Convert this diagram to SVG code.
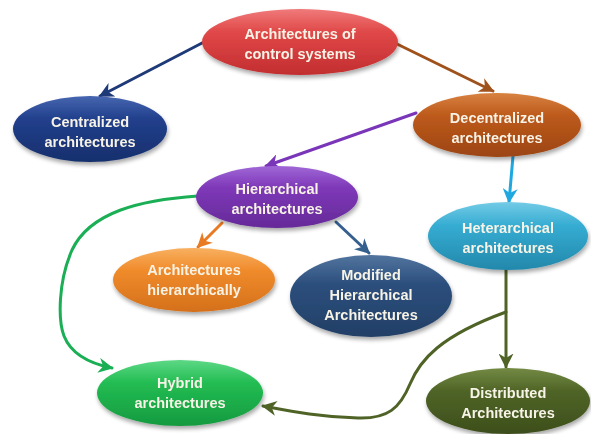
<svg xmlns="http://www.w3.org/2000/svg" width="591" height="434" viewBox="0 0 591 434">
<style>
.t{font-family:"Liberation Sans","Open Sans",Arial,sans-serif;font-weight:bold;font-size:14.5px;fill:#f7f3e6;text-anchor:middle}
.c{fill:none;stroke-width:3;stroke-linecap:round}
.n{filter:url(#sh)}
</style>
<defs>
<filter id="sh" x="-20%" y="-20%" width="140%" height="150%">
<feGaussianBlur in="SourceAlpha" stdDeviation="2"/>
<feOffset dx="1" dy="3" result="o"/>
<feComponentTransfer><feFuncA type="linear" slope="0.35"/></feComponentTransfer>
<feMerge><feMergeNode/><feMergeNode in="SourceGraphic"/></feMerge>
</filter>
<linearGradient id="gR" x1="0" y1="0" x2="0" y2="1"><stop offset="0" stop-color="#f07a7a"/><stop offset="0.35" stop-color="#e04848"/><stop offset="1" stop-color="#c22e30"/></linearGradient>
<linearGradient id="gN" x1="0" y1="0" x2="0" y2="1"><stop offset="0" stop-color="#4666b0"/><stop offset="0.35" stop-color="#213f8c"/><stop offset="1" stop-color="#172f6c"/></linearGradient>
<linearGradient id="gB" x1="0" y1="0" x2="0" y2="1"><stop offset="0" stop-color="#d88240"/><stop offset="0.35" stop-color="#bd5a1c"/><stop offset="1" stop-color="#9c4512"/></linearGradient>
<linearGradient id="gP" x1="0" y1="0" x2="0" y2="1"><stop offset="0" stop-color="#a067d6"/><stop offset="0.35" stop-color="#7e38b8"/><stop offset="1" stop-color="#652a98"/></linearGradient>
<linearGradient id="gC" x1="0" y1="0" x2="0" y2="1"><stop offset="0" stop-color="#74cbe6"/><stop offset="0.35" stop-color="#35acd2"/><stop offset="1" stop-color="#2388ab"/></linearGradient>
<linearGradient id="gO" x1="0" y1="0" x2="0" y2="1"><stop offset="0" stop-color="#f8b060"/><stop offset="0.35" stop-color="#f08b2c"/><stop offset="1" stop-color="#d4701a"/></linearGradient>
<linearGradient id="gM" x1="0" y1="0" x2="0" y2="1"><stop offset="0" stop-color="#52759f"/><stop offset="0.35" stop-color="#2c4f7d"/><stop offset="1" stop-color="#223f66"/></linearGradient>
<linearGradient id="gG" x1="0" y1="0" x2="0" y2="1"><stop offset="0" stop-color="#5ed886"/><stop offset="0.35" stop-color="#22bc52"/><stop offset="1" stop-color="#169a40"/></linearGradient>
<linearGradient id="gL" x1="0" y1="0" x2="0" y2="1"><stop offset="0" stop-color="#738a44"/><stop offset="0.35" stop-color="#4f6426"/><stop offset="1" stop-color="#3d4e1c"/></linearGradient>
<marker id="aN" viewBox="0 0 10 10" refX="9" refY="5" markerWidth="5" markerHeight="5" orient="auto" markerUnits="strokeWidth"><path d="M0,0 L10,5 L0,10 L3,5 z" fill="#1f3a78"/></marker>
<marker id="aB" viewBox="0 0 10 10" refX="9" refY="5" markerWidth="5" markerHeight="5" orient="auto" markerUnits="strokeWidth"><path d="M0,0 L10,5 L0,10 L3,5 z" fill="#a0521c"/></marker>
<marker id="aP" viewBox="0 0 10 10" refX="9" refY="5" markerWidth="5" markerHeight="5" orient="auto" markerUnits="strokeWidth"><path d="M0,0 L10,5 L0,10 L3,5 z" fill="#7a36b8"/></marker>
<marker id="aC" viewBox="0 0 10 10" refX="9" refY="5" markerWidth="5" markerHeight="5" orient="auto" markerUnits="strokeWidth"><path d="M0,0 L10,5 L0,10 L3,5 z" fill="#1fa8e0"/></marker>
<marker id="aO" viewBox="0 0 10 10" refX="9" refY="5" markerWidth="5" markerHeight="5" orient="auto" markerUnits="strokeWidth"><path d="M0,0 L10,5 L0,10 L3,5 z" fill="#e97a22"/></marker>
<marker id="aM" viewBox="0 0 10 10" refX="9" refY="5" markerWidth="5" markerHeight="5" orient="auto" markerUnits="strokeWidth"><path d="M0,0 L10,5 L0,10 L3,5 z" fill="#35608e"/></marker>
<marker id="aG" viewBox="0 0 10 10" refX="9" refY="5" markerWidth="5" markerHeight="5" orient="auto" markerUnits="strokeWidth"><path d="M0,0 L10,5 L0,10 L3,5 z" fill="#1aaf55"/></marker>
<marker id="aL" viewBox="0 0 10 10" refX="9" refY="5" markerWidth="5" markerHeight="5" orient="auto" markerUnits="strokeWidth"><path d="M0,0 L10,5 L0,10 L3,5 z" fill="#4f6326"/></marker>
</defs>
<rect width="591" height="434" fill="#ffffff"/>
<g id="connectors">
<path class="c" stroke="#1f3a78" marker-end="url(#aN)" d="M204,42 L100,96"/>
<path class="c" stroke="#a0521c" marker-end="url(#aB)" d="M397,44 L493,91"/>
<path class="c" stroke="#7a36b8" marker-end="url(#aP)" d="M416,113 L266,166"/>
<path class="c" stroke="#1fa8e0" marker-end="url(#aC)" d="M513,156 L509,202"/>
<path class="c" stroke="#e97a22" marker-end="url(#aO)" d="M222,223 L198,247"/>
<path class="c" stroke="#35608e" marker-end="url(#aM)" d="M336,222 L369,253"/>
<path class="c" stroke="#1aaf55" marker-end="url(#aG)" d="M198,196 C140,200 90,212 72,250 C58,282 58,320 64,336 C72,356 92,364 112,368"/>
<path class="c" stroke="#4f6326" marker-end="url(#aL)" d="M506,270 L506,367"/>
<path class="c" stroke="#4f6326" marker-end="url(#aL)" d="M506,312 C440,336 420,360 410,384 C400,408 388,419 358,418 C320,417 290,411 263,406"/>
</g>
<g id="n-control" class="n"><ellipse cx="300" cy="42" rx="98" ry="33" fill="url(#gR)"/><text class="t" x="300" y="39">Architectures of</text><text class="t" x="300" y="59">control systems</text></g>
<g id="n-centralized" class="n"><ellipse cx="90" cy="129" rx="77" ry="33" fill="url(#gN)"/><text class="t" x="90" y="127">Centralized</text><text class="t" x="90" y="147">architectures</text></g>
<g id="n-decentralized" class="n"><ellipse cx="497" cy="125" rx="84" ry="32" fill="url(#gB)"/><text class="t" x="497" y="123">Decentralized</text><text class="t" x="497" y="143">architectures</text></g>
<g id="n-hierarchical" class="n"><ellipse cx="277" cy="197" rx="81" ry="31" fill="url(#gP)"/><text class="t" x="277" y="194">Hierarchical</text><text class="t" x="277" y="214">architectures</text></g>
<g id="n-heterarchical" class="n"><ellipse cx="508" cy="236" rx="80" ry="34" fill="url(#gC)"/><text class="t" x="508" y="233">Heterarchical</text><text class="t" x="508" y="253">architectures</text></g>
<g id="n-archhier" class="n"><ellipse cx="194" cy="280" rx="81" ry="32" fill="url(#gO)"/><text class="t" x="194" y="275">Architectures</text><text class="t" x="194" y="295">hierarchically</text></g>
<g id="n-modified" class="n"><ellipse cx="371" cy="296" rx="81" ry="41" fill="url(#gM)"/><text class="t" x="371" y="280">Modified</text><text class="t" x="371" y="300">Hierarchical</text><text class="t" x="371" y="320">Architectures</text></g>
<g id="n-hybrid" class="n"><ellipse cx="180" cy="393" rx="83" ry="33" fill="url(#gG)"/><text class="t" x="180" y="388">Hybrid</text><text class="t" x="180" y="408">architectures</text></g>
<g id="n-distributed" class="n"><ellipse cx="508" cy="401" rx="82" ry="33" fill="url(#gL)"/><text class="t" x="508" y="398">Distributed</text><text class="t" x="508" y="418">Architectures</text></g>
</svg>
